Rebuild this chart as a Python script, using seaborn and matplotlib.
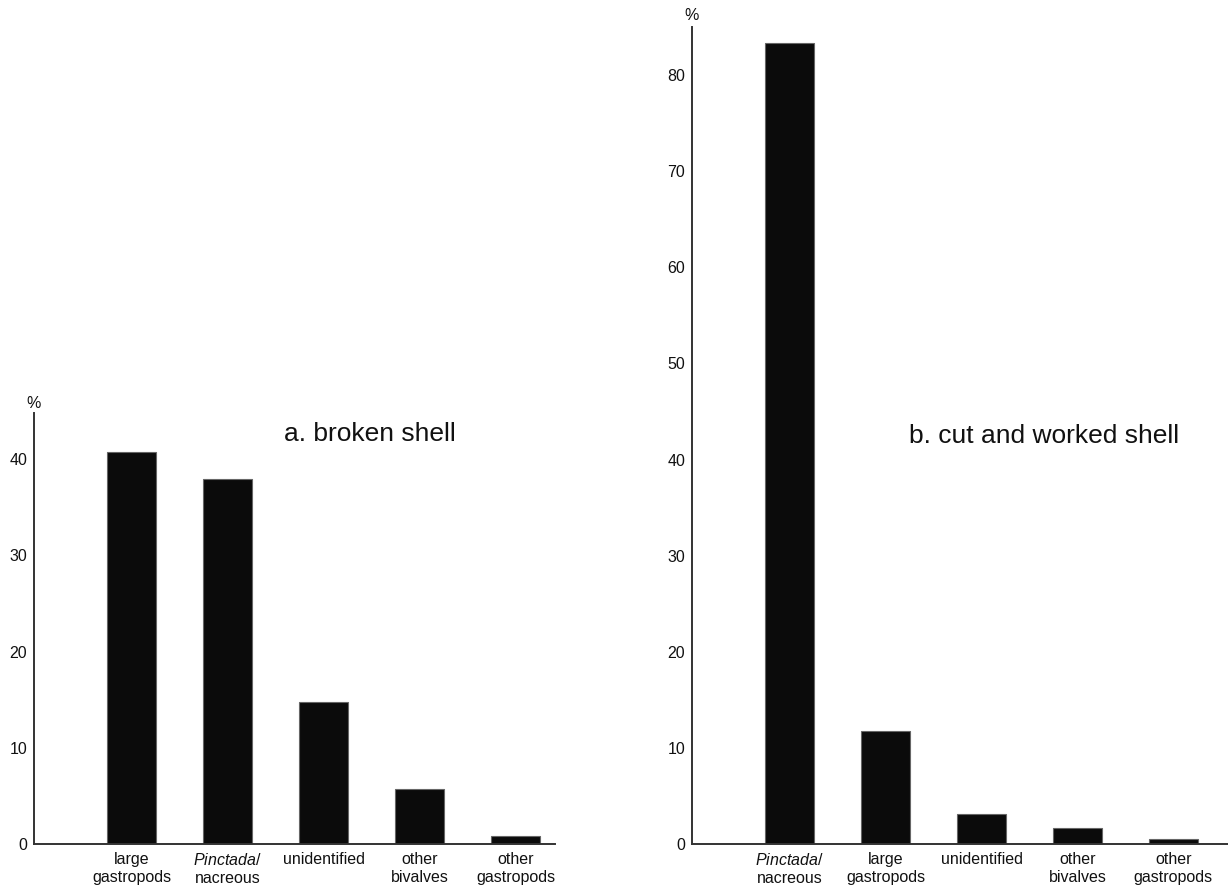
import matplotlib
matplotlib.use("Agg")
import matplotlib.pyplot as plt
import seaborn as sns
import pandas as pd

# ---- data ----
cats_a = ["large\ngastropods", "$\\mathit{Pinctada}$/\nnacreous", "unidentified",
          "other\nbivalves", "other\ngastropods"]
vals_a = [40.7, 37.9, 14.8, 5.7, 0.8]
cats_b = ["$\\mathit{Pinctada}$/\nnacreous", "large\ngastropods", "unidentified",
          "other\nbivalves", "other\ngastropods"]
vals_b = [83.3, 11.8, 3.1, 1.7, 0.55]
yticks_a = [0, 10, 20, 30, 40]
yticks_b = [0, 10, 20, 30, 40, 50, 60, 70, 80]
title_a = "a. broken shell"
title_b = "b. cut and worked shell"

sns.set_style("white")
plt.rcParams['font.family'] = ['Liberation Sans', 'DejaVu Sans']
plt.rcParams['mathtext.fontset'] = 'custom'
plt.rcParams['mathtext.it'] = 'Liberation Sans:italic'
plt.rcParams['mathtext.rm'] = 'Liberation Sans'

W, H = 1228, 890
fig = plt.figure(figsize=(W / 100, H / 100), dpi=100)

def px_axes(x0, x1, ytop, ybot):
    return fig.add_axes([x0 / W, (H - ybot) / H, (x1 - x0) / W, (ybot - ytop) / H])

ax_a = px_axes(34, 555, 413, 844)
ax_b = px_axes(692, 1228, 27, 844)

def draw(ax, cats, vals, yticks, ymax, xmax, title, tx, ty):
    df = pd.DataFrame({"cat": cats, "val": vals})
    sns.barplot(data=df, x="cat", y="val", order=cats, ax=ax, color="#0b0b0b",
                edgecolor="#666666", linewidth=0.8, width=0.51, saturation=1)
    ax.set_xlim(-1.02, xmax)
    ax.set_ylim(0, ymax)
    ax.set_yticks(yticks)
    ax.set_xlabel("")
    ax.set_ylabel("")
    for s in ["top", "right"]:
        ax.spines[s].set_visible(False)
    for s in ["left", "bottom"]:
        ax.spines[s].set_color("#333333")
        ax.spines[s].set_linewidth(1.4)
    ax.tick_params(axis="both", length=0, labelsize=11.5, colors="#111111")
    ax.tick_params(axis="y", pad=5)
    ax.tick_params(axis="x", pad=5.5)
    for lab in ax.get_xticklabels():
        lab.set_linespacing(1.25)
    ax.text(0, 1.005, "%", transform=ax.transAxes, ha="center", va="bottom",
            fontsize=11.5, color="#111111")
    ax.text(tx, ty, title, transform=ax.transAxes, ha="center", va="baseline",
            fontsize=19, color="#111111")

draw(ax_a, cats_a, vals_a, yticks_a, 44.8, 4.41, title_a, 0.645, 0.935)
draw(ax_b, cats_b, vals_b, yticks_b, 85.0, 4.57, title_b, 0.656, 0.491)

fig.savefig("out.png", dpi=100, facecolor="white")
